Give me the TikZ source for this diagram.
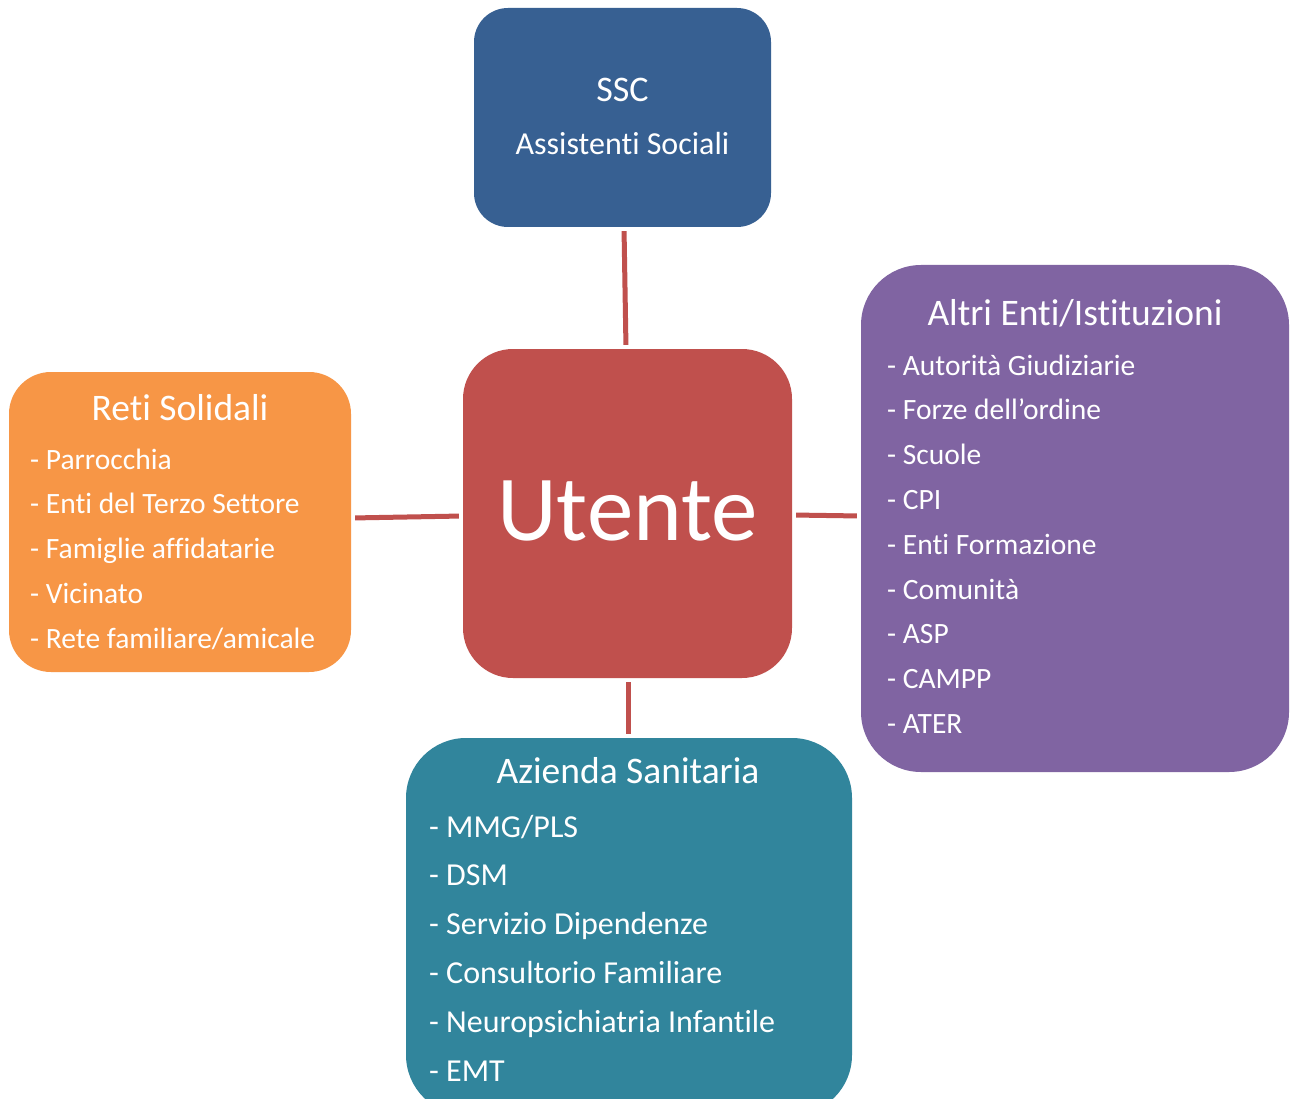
\documentclass[tikz,border=0pt]{standalone}
\usepackage{fontspec}
\setmainfont{Carlito}[Ligatures={NoCommon}]
\definecolor{cssc}{HTML}{376092}
\definecolor{cut}{HTML}{C0504D}
\definecolor{creti}{HTML}{F79646}
\definecolor{caltri}{HTML}{8064A2}
\definecolor{caz}{HTML}{31859C}
\tikzset{
  box/.style={draw=none, inner sep=0pt, shape=rectangle},
  conn/.style={draw=cut, line width=5pt, shorten <=4pt, shorten >=4pt},
  ttl/.style={text=white, inner sep=0pt, anchor=base, font=\fontsize{37.5}{44}\selectfont},
  itm/.style={text=white, inner sep=0pt, anchor=base west, font=\fontsize{29.5}{36}\selectfont},
  itmb/.style={text=white, inner sep=0pt, anchor=base west, font=\fontsize{32}{38}\selectfont},
}
\begin{document}
\begin{tikzpicture}[x=1pt,y=-1pt]
\clip (0,0) rectangle (1290,1099);
\fill[white] (0,0) rectangle (1290,1099);
% boxes
\node[box, fill=cssc, rounded corners=34pt, minimum width=297pt, minimum height=219pt] (ssc) at (622.5,117.5) {};
\node[box, fill=cut, rounded corners=50pt, minimum width=329pt, minimum height=329pt] (ut) at (627.5,513.5) {};
\node[box, fill=creti, rounded corners=42pt, minimum width=342pt, minimum height=300pt] (reti) at (180,522) {};
\node[box, fill=caltri, rounded corners=60pt, minimum width=428pt, minimum height=507pt] (altri) at (1075,518.5) {};
\node[box, fill=caz, rounded corners=60pt, minimum width=446pt, minimum height=377pt] (az) at (629,926.5) {};
% connectors
\draw[conn] ([xshift=1.5pt]ssc.south) -- ([xshift=-1.5pt]ut.north);
\draw[conn] ([yshift=4pt]reti.east) -- ([yshift=-2.5pt]ut.west);
\draw[conn] ([yshift=-1.5pt]ut.east) -- ([yshift=2.5pt]altri.west);
\draw[conn] ([xshift=0.5pt]ut.south) -- ([xshift=-1pt]az.north);
% SSC
\node[ttl, font=\fontsize{36}{40}\selectfont] (sscT) at (622.5,102) {SSC};
\node[ttl, font=\fontsize{32}{36}\selectfont] (sscS) at (622.5,155) {Assistenti Sociali};
% Utente
\node[ttl, font=\fontsize{93}{100}\selectfont] (utT) at (627.5,540) {Utente};
% Reti
\node[ttl] (retiT) at (180,420) {Reti Solidali};
\foreach \t [count=\i] in {Parrocchia, Enti del Terzo Settore, Famiglie affidatarie, Vicinato, Rete familiare/amicale}
  \node[itm] (reti\i) at (30,{469+44.75*(\i-1)}) {- \t};
% Altri
\node[ttl] (altriT) at (1075,325) {Altri Enti/Istituzioni};
\foreach \t [count=\i] in {Autorità Giudiziarie, Forze dell’ordine, Scuole, CPI, Enti Formazione, Comunità, ASP, CAMPP, ATER}
  \node[itm] (altri\i) at (887,{375+44.8*(\i-1)}) {- \t};
% Azienda
\node[ttl] (azT) at (628,783) {Azienda Sanitaria};
\foreach \t [count=\i] in {MMG/PLS, DSM, Servizio Dipendenze, Consultorio Familiare, Neuropsichiatria Infantile, EMT}
  \node[itmb] (az\i) at (429,{837+48.8*(\i-1)}) {- \t};
\end{tikzpicture}
\end{document}
